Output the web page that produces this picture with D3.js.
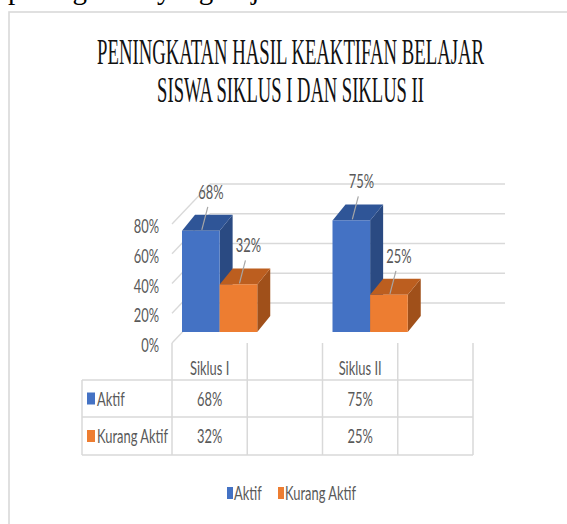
<!DOCTYPE html>
<html><head><meta charset="utf-8">
<script src="https://cdn.jsdelivr.net/npm/d3@7"></script>
<style>html,body{margin:0;padding:0;background:#fff;}svg{display:block;}</style>
</head><body>
<script>
const docText = "peningkatan yang terjadi";
const titleLines = ["PENINGKATAN HASIL KEAKTIFAN BELAJAR", "SISWA SIKLUS I DAN SIKLUS II"];
const categories = ["Siklus I", "", "Siklus II", ""];
const seriesNames = ["Aktif", "Kurang Aktif"];
const aktif = [0.68, null, 0.75, null];
const kurangAktif = [0.32, null, 0.25, null];
const yTicks = [0, 0.2, 0.4, 0.6, 0.8];
const colors = ["#4472C4", "#ED7D31"];
const topColors = ["#2F5597", "#BC5E1F"];
const sideColors = ["#2A4A82", "#A0501A"];

const W = 567, H = 524;
const svg = d3.select("body").append("svg").attr("width", W).attr("height", H);
svg.append("rect").attr("width", W).attr("height", H).attr("fill", "#fff");

// cropped document text above the chart
svg.append("text").attr("x", 8).attr("y", -1).attr("font-family", "Liberation Serif")
  .attr("font-size", 29).attr("fill", "#000").text(docText);

// chart frame
svg.append("rect").attr("x", 9).attr("y", 12).attr("width", 700).attr("height", 700)
  .attr("fill", "#fff").attr("stroke", "#d9d9d9").attr("stroke-width", 1.6);

// title (horizontally condensed serif)
titleLines.forEach((t, i) => {
  const g = svg.append("g");
  const txt = g.append("text").attr("text-anchor", "middle")
    .attr("font-family", "Liberation Serif").attr("font-size", 36).attr("fill", "#111").text(t);
  const natural = txt.node().getComputedTextLength();
  const target = [387, 267][i];
  g.attr("transform", `translate(290.5,${[64, 102][i]}) scale(${target / natural},1)`);
});

const SX = 0.68, FONT = "Lato", FS = 19, TC = "#595959";
function ctext(x, y, str, anchor, color) {
  svg.append("g").attr("transform", `translate(${x},${y}) scale(${SX},1)`)
    .append("text").attr("text-anchor", anchor || "start")
    .attr("font-family", FONT).attr("font-size", FS).attr("fill", color || TC).text(str);
}

// scales (front plane)
const x = d3.scaleBand().domain(d3.range(categories.length)).range([172, 473]).padding(0);
const y = d3.scaleLinear().domain([0, 0.8]).range([343, 224]);
const wallDX = 38, wallDY = -40;   // depth of the plot
const barOffX = 10, barOffY = -11; // bar front face position within depth
const barDX = 13, barDY = -16;     // bar depth
const xs = d3.scaleBand().domain(seriesNames).range([0, x.bandwidth()]).padding(0);

const grid = "#d9d9d9";
// walls
yTicks.forEach(t => {
  svg.append("line").attr("x1", 172).attr("y1", y(t)).attr("x2", 172 + wallDX).attr("y2", y(t) + wallDY)
    .attr("stroke", grid).attr("stroke-width", 1.3);
  svg.append("line").attr("x1", 172 + wallDX).attr("y1", y(t) + wallDY).attr("x2", 505).attr("y2", y(t) + wallDY)
    .attr("stroke", grid).attr("stroke-width", 1.3);
  ctext(159, y(t) + 9, d3.format(".0%")(t), "end");
});

// bars
const series = [aktif, kurangAktif];
const bars = [];
categories.forEach((c, i) => {
  series.forEach((vals, s) => {
    const v = vals[i];
    if (v == null) return;
    const x0 = x(i) + xs(seriesNames[s]) + barOffX;
    const w = xs.bandwidth();
    const yb = y(0) + barOffY, yt = y(v) + barOffY;
    bars.push({x0, w, yb, yt, s, v});
  });
});
bars.forEach(b => {
  const {x0, w, yb, yt, s} = b;
  svg.append("path").attr("d", `M${x0 + w},${yt} L${x0 + w + barDX},${yt + barDY} L${x0 + w + barDX},${yb + barDY} L${x0 + w},${yb} Z`)
    .attr("fill", sideColors[s]);
  svg.append("path").attr("d", `M${x0},${yt} L${x0 + barDX},${yt + barDY} L${x0 + w + barDX},${yt + barDY} L${x0 + w},${yt} Z`)
    .attr("fill", topColors[s]);
  svg.append("rect").attr("x", x0).attr("y", yt).attr("width", w).attr("height", yb - yt).attr("fill", colors[s]);
});
// data labels with leader lines
bars.forEach(b => {
  const cx = b.x0 + b.w / 2;
  svg.append("line").attr("x1", cx + 1).attr("y1", b.yt - 1).attr("x2", cx + 7).attr("y2", b.yt - 24)
    .attr("stroke", "#a6a6a6").attr("stroke-width", 1.2);
  ctext(cx + 10, b.yt - 32, d3.format(".0%")(b.v), "middle");
});

// data table
const rowY = [380, 417, 455];
categories.forEach((c, i) => {
  svg.append("line").attr("x1", x(i)).attr("x2", x(i)).attr("y1", 343).attr("y2", 455).attr("stroke", grid).attr("stroke-width", 1.5);
  ctext(x(i) + x.bandwidth() / 2, 375, c, "middle");
  series.forEach((vals, s) => {
    if (vals[i] != null) ctext(x(i) + x.bandwidth() / 2, (rowY[s] + rowY[s + 1]) / 2 + 7, d3.format(".0%")(vals[i]), "middle");
  });
});
svg.append("line").attr("x1", 473).attr("x2", 473).attr("y1", 343).attr("y2", 455).attr("stroke", grid).attr("stroke-width", 1.5);
svg.append("line").attr("x1", 82).attr("x2", 82).attr("y1", 380).attr("y2", 455).attr("stroke", grid).attr("stroke-width", 1.5);
rowY.forEach(ry => svg.append("line").attr("x1", 82).attr("x2", 473).attr("y1", ry).attr("y2", ry).attr("stroke", grid).attr("stroke-width", 1.5));
seriesNames.forEach((n, s) => {
  const cy = (rowY[s] + rowY[s + 1]) / 2;
  svg.append("rect").attr("x", 87).attr("y", cy - 6).attr("width", 8).attr("height", 12).attr("fill", colors[s]);
  ctext(97, cy + 7, n, "start");
});

// legend
const legX = [227, 278];
seriesNames.forEach((n, s) => {
  svg.append("rect").attr("x", legX[s]).attr("y", 487).attr("width", 6).attr("height", 12).attr("fill", colors[s]);
  ctext(legX[s] + 7, 500, n, "start");
});
</script>
</body></html>
